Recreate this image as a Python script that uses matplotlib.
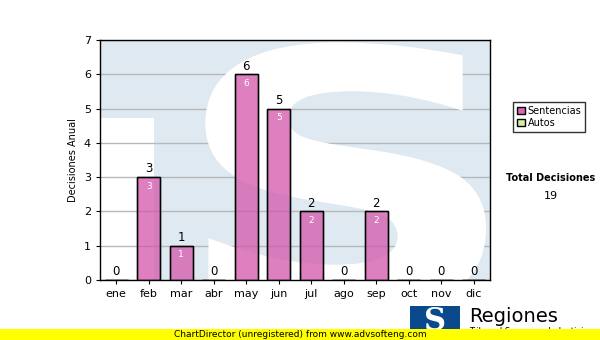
import matplotlib
matplotlib.use("Agg")
import matplotlib.pyplot as plt
from matplotlib.patches import Rectangle, PathPatch, Patch
from matplotlib.textpath import TextPath
from matplotlib.font_manager import FontProperties
from matplotlib.transforms import Affine2D

months = ["ene", "feb", "mar", "abr", "may", "jun", "jul", "ago", "sep", "oct", "nov", "dic"]
sentencias = [0, 3, 1, 0, 6, 5, 2, 0, 2, 0, 0, 0]
autos = [0] * 12
yticks = [0, 1, 2, 3, 4, 5, 6, 7]
total = 19

plt.rcParams['font.family'] = ['DejaVu Sans']
fig = plt.figure(figsize=(6, 3.4), dpi=100)
W, H = 600, 340
ax = fig.add_axes([100 / W, 1 - 280 / H, 390 / W, 240 / H])

# watermark (logo): light-blue field, white notch at left, white S
ax.set_facecolor("#dfe9f2")
ax.add_patch(Rectangle((0, 0), 54 / 390, (280 - 118) / 240, transform=ax.transAxes,
                       facecolor="white", edgecolor="none", zorder=0.5))
tp = TextPath((0, 0), "S", size=1, prop=FontProperties(family="DejaVu Sans", weight="bold"))
ext = tp.get_extents()
x0, x1, y0, y1 = 0.27, 0.99, -0.14, 0.99
tr = (Affine2D().translate(-ext.x0, -ext.y0)
      .scale((x1 - x0) / ext.width, (y1 - y0) / ext.height)
      .translate(x0, y0) + ax.transAxes)
ax.add_patch(PathPatch(tp, transform=tr, facecolor="white", edgecolor="none", zorder=0.6))

x = list(range(len(months)))
ax.bar(x, sentencias, width=0.7, color="#d456aa", alpha=0.75,
       edgecolor="black", linewidth=1, zorder=3)
ax.bar(x, sentencias, width=0.7, color="none", edgecolor="black", linewidth=1, zorder=3.5)
for xi, v in zip(x, sentencias):
    ax.text(xi, v + 0.05, str(v), ha="center", va="bottom", fontsize=8.5, zorder=5)
    if v > 0:
        ax.text(xi, v - 0.13, str(v), ha="center", va="top", fontsize=6.5,
                color="white", zorder=5)

ax.set_xlim(-0.5, 11.5)
ax.set_ylim(0, 7)
ax.set_yticks(yticks)
ax.set_xticks(x)
ax.set_xticklabels(months)
ax.tick_params(axis="both", labelsize=8, length=3)
ax.yaxis.grid(True, color="#b8b8b8", linewidth=1, zorder=1)
ax.set_axisbelow(True)
ax.set_ylabel("Decisiones Anual", fontsize=7)
for s in ax.spines.values():
    s.set_linewidth(1)

# legend
handles = [Patch(facecolor="#d966b4", edgecolor="black", label="Sentencias"),
           Patch(facecolor="#d6ee9c", edgecolor="black", label="Autos")]
fig.legend(handles=handles, loc="upper left", bbox_to_anchor=(508 / W, 1 - 97 / H),
           fontsize=7, frameon=True, fancybox=False, edgecolor="black",
           handlelength=0.8, handleheight=0.8, handletextpad=0.3, borderpad=0.4,
           labelspacing=0.2)

fig.text(551 / W, 1 - 178 / H, "Total Decisiones", ha="center", va="center",
         fontsize=7, fontweight="bold")
fig.text(551 / W, 1 - 196 / H, str(total), ha="center", va="center", fontsize=8)

# logo
fig.patches.append(Rectangle((410 / W, 1 - 336 / H), 50 / W, 30 / H,
                             transform=fig.transFigure, facecolor="#0a4a8c",
                             edgecolor="none", figure=fig))
fig.text(435 / W, 1 - 321 / H, "S", ha="center", va="center", fontsize=22,
         fontweight="bold", family="DejaVu Serif", color="white")
fig.text(469 / W, 1 - 316 / H, "Regiones", ha="left", va="center", fontsize=14)
fig.text(469 / W, 1 - 332 / H, "Tribunal Supremo de Justicia", ha="left",
         va="center", fontsize=6)

# yellow banner
fig.patches.append(Rectangle((0, 0), 1, 11 / H, transform=fig.transFigure,
                             facecolor="#ffff00", edgecolor="none", figure=fig,
                             zorder=10))
fig.text(0.5, 5.5 / H, "ChartDirector (unregistered) from www.advsofteng.com",
         ha="center", va="center", fontsize=6.5, zorder=11)

fig.savefig("out.png", dpi=100)
